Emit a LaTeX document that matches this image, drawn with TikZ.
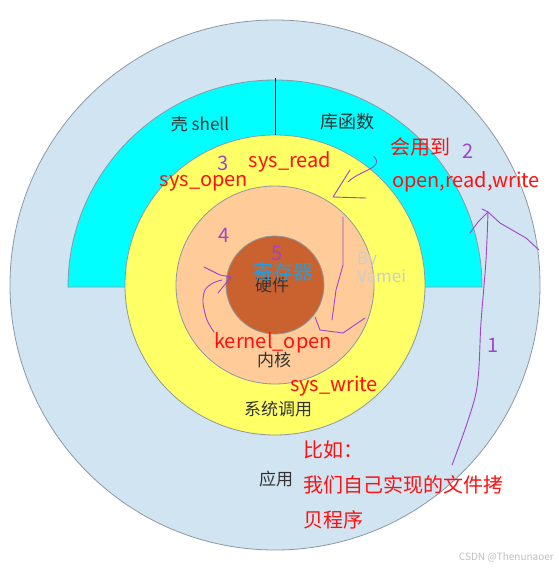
\documentclass[tikz,border=0pt]{standalone}
\usepackage{fontspec}
\setmainfont{Noto Sans CJK SC}
\usetikzlibrary{positioning}
\definecolor{appblue}{HTML}{D0E4F2}
\definecolor{shellcyan}{HTML}{00FFFF}
\definecolor{callyellow}{HTML}{FFFF66}
\definecolor{kernpeach}{HTML}{FFCC99}
\definecolor{hwbrown}{HTML}{C9622F}
\definecolor{ringgray}{HTML}{8C98A4}
\definecolor{darktext}{HTML}{333333}
\definecolor{notered}{HTML}{FF1010}
\definecolor{penpurple}{HTML}{A044C8}
\definecolor{regblue}{HTML}{1EA0E0}
\tikzset{
	every node/.style = {inner sep=0pt, font=\fontsize{20}{22}\selectfont},
	ring/.style = {draw=ringgray, line width=0.8pt},
	layertext/.style = {text=darktext, font=\fontsize{17}{19}\selectfont},
	note/.style = {text=notered},
	stepnum/.style = {text=penpurple},
	pen/.style = {draw=penpurple, line width=0.9pt, line cap=round, line join=round}
}

\begin{document}
\begin{tikzpicture}[x=1pt, y=-1pt]
		\useasboundingbox (0,0) rectangle (558,569);
		% layers
		\coordinate (c) at (275,285);
		\draw[ring, fill=appblue] (c) circle (265);
		\draw[ring, fill=shellcyan] (68,287) arc (180:360:207) -- cycle;
		\draw[ring, fill=callyellow] (c) circle (150);
		\draw[ring, fill=kernpeach] (c) circle (99);
		\draw[ring, fill=hwbrown] (c) circle (49);
		\draw[black, line width=0.9pt] (275,78) -- (275,135);
		
		% layer names
		\node[layertext] (shell) at (200,124) {壳 shell};
		\node[layertext, font=\fontsize{18}{20}\selectfont] (lib) at (347,122) {库函数};
		\node[layertext] (hw) at (272,285) {硬件};
		\node[stepnum] (num5) at (277,253) {5};
		\node[text=regblue] (reg) at (283,272) {寄存器};
		\node[text=black!20, font=\fontsize{17}{19}\selectfont, align=left, anchor=north west] (by) at (357,252) {By\\[-1pt]Vamei};
		\node[note] (kopen) at (273,343) {kernel\_open};
		\node[layertext, fill=kernpeach, inner sep=1pt] (kernel) at (274,360) {内核};
		\node[note] (swrite) at (334,386) {sys\_write};
		\node[layertext, fill=callyellow, inner sep=2pt] (syscall) at (278,409) {系统调用};
		\node[layertext] (app) at (276,479) {应用};
		
		% notes
		\node[stepnum] (num3) at (223,163) {3};
		\node[note] (sysread) at (290,162) {sys\_read};
		\node[note] (sysopen) at (204,183) {sys\_open};
		\node[note] (useto) at (420,147) {会用到};
		\node[stepnum] (num2) at (468,151) {2};
		\node[note] (orw) at (466,182) {open,read,write};
		\node[stepnum] (num4) at (224,235) {4};
		\node[stepnum] (num1) at (493,345) {1};
		\node[note, anchor=west] (eg) at (303,450) {比如：};
		\node[note, anchor=west] (prog1) at (303,485) {我们自己实现的文件拷};
		\node[note, anchor=west] (prog2) at (303,520) {贝程序};
		\node[text=black!25, font=\fontsize{10}{12}\selectfont, anchor=east] (csdn) at (554,557) {CSDN @Thenunaoer};
		
		% pen strokes
		\draw[pen] (useto.south west) ++(-16,0) coordinate (a0) .. controls (385,168) and (360,170) .. (348,182);
		\draw[pen] (350,170) -- (333,197) -- (366,198);
		\draw[pen] (343,217) -- (343,265) -- (336,290) -- (332,320);
		\draw[pen] (315,317) -- (320,330) -- (343,333) -- (365,318);
		\draw[pen] (204,267) -- (220,275) -- (231,277) -- (218,293);
		\draw[pen] plot[smooth] coordinates {(222,280) (213,283) (205,290) (203,303) (207,320) (214,332)};
		\draw[pen] plot[smooth] coordinates {(452,465) (476,393) (481,322) (486,260) (488,212)};
		\draw[pen] (482,209) -- (488,212) -- (478,222) -- (470,233);
		\draw[pen] (488,212) -- (500,223) -- (526,238) -- (539,250);
	\end{tikzpicture}
\end{document}
